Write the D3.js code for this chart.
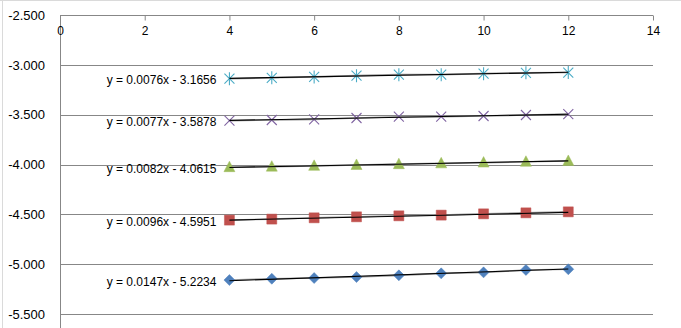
<!DOCTYPE html>
<html>
<head>
<meta charset="utf-8">
<script src="https://cdn.jsdelivr.net/npm/d3@7"></script>
<style>
  html, body { margin: 0; padding: 0; background: #fff; }
  svg { display: block; }
  text { font-family: "Liberation Sans", Arial, sans-serif; fill: #000; }
</style>
</head>
<body>
<svg id="chart" width="681" height="328"></svg>
<script>
// Measured points: x = 4..12, one row per series
const xValues = [4, 5, 6, 7, 8, 9, 10, 11, 12];
const seriesNames = ["s1", "s2", "s3", "s4", "s5"];
const seriesValues = [
  [-5.158, -5.145, -5.138, -5.128, -5.111, -5.091, -5.081, -5.057, -5.050],
  [-4.557, -4.547, -4.534, -4.524, -4.514, -4.507, -4.494, -4.484, -4.474],
  [-4.026, -4.021, -4.013, -4.004, -3.996, -3.988, -3.980, -3.972, -3.964],
  [-3.560, -3.553, -3.547, -3.533, -3.520, -3.520, -3.513, -3.503, -3.493],
  [-3.139, -3.130, -3.121, -3.108, -3.098, -3.098, -3.088, -3.080, -3.077]
];
// Linear trendline coefficients (y = slope * x + intercept)
const trendSlopes = [0.0147, 0.0096, 0.0082, 0.0077, 0.0076];
const trendIntercepts = [-5.2234, -4.5951, -4.0615, -3.5878, -3.1656];
const trendLabels = [
  "y = 0.0147x - 5.2234",
  "y = 0.0096x - 4.5951",
  "y = 0.0082x - 4.0615",
  "y = 0.0077x - 3.5878",
  "y = 0.0076x - 3.1656"
];
const seriesColors = ["#4F81BD", "#C0504D", "#9BBB59", "#8064A2", "#4BACC6"];
const markerKinds = ["diamond", "square", "triangle", "x", "star"];
const xTicks = [0, 2, 4, 6, 8, 10, 12, 14];
const yTicks = [-2.5, -3.0, -3.5, -4.0, -4.5, -5.0, -5.5];

const svg = d3.select("#chart");
const W = 681, H = 328;

const x = d3.scaleLinear().domain([0, 14]).range([60, 653]);
const y = d3.scaleLinear().domain([-2.5, -6.0]).range([15, 364]);
const gridColor = "#878787";

// worksheet cell lines around the chart area
svg.append("line").attr("x1", 0).attr("x2", W).attr("y1", 0.5).attr("y2", 0.5)
  .attr("stroke", "#dadada");
svg.append("line").attr("x1", 2.5).attr("x2", 2.5).attr("y1", 0).attr("y2", H)
  .attr("stroke", "#dadada");

// horizontal gridlines
svg.append("g").selectAll("line").data(yTicks.slice(1)).join("line")
  .attr("x1", x(0)).attr("x2", x(14))
  .attr("y1", d => Math.round(y(d)) + 0.5).attr("y2", d => Math.round(y(d)) + 0.5)
  .attr("stroke", gridColor).attr("stroke-width", 1);

// vertical axis line (labels only, no tick marks)
svg.append("line")
  .attr("x1", Math.round(x(0)) + 0.5).attr("x2", Math.round(x(0)) + 0.5)
  .attr("y1", y(-2.5)).attr("y2", H)
  .attr("stroke", gridColor);

const yAxis = d3.axisLeft(y).tickValues(yTicks).tickSize(0).tickPadding(0)
  .tickFormat(d => d.toFixed(3));
const gy = svg.append("g").attr("transform", `translate(45,0)`).call(yAxis);
gy.select(".domain").remove();
gy.selectAll("text").attr("font-size", "13px").attr("font-family", "Liberation Sans, Arial, sans-serif")
  .attr("fill", "#000");

// horizontal value axis placed at the top of the plot
const xAxis = d3.axisBottom(x).tickValues(xTicks).tickSize(5).tickPadding(6)
  .tickFormat(d3.format("d"));
const gx = svg.append("g").attr("transform", `translate(0,${Math.round(y(-2.5)) + 0.5})`).call(xAxis);
gx.select(".domain").attr("stroke", gridColor).attr("d", `M${x(0)},0H${x(14)}`);
gx.selectAll(".tick line").attr("stroke", gridColor);
gx.selectAll("text").attr("font-size", "12px").attr("font-family", "Liberation Sans, Arial, sans-serif")
  .attr("fill", "#000");

// marker shapes
function markerPath(kind) {
  switch (kind) {
    case "diamond": return "M0,-5.5L5.5,0L0,5.5L-5.5,0Z";
    case "square": return "M-5,-5H5V5H-5Z";
    case "triangle": return "M0,-6L5.5,4.5H-5.5Z";
    case "x": return "M-5,-5L5,5M-5,5L5,-5";
    case "star": return "M-5,-5L5,5M-5,5L5,-5M0,-6.5V6.5";
  }
}

const plot = svg.append("g");
seriesValues.forEach((vals, i) => {
  const pts = xValues.map((xv, j) => [xv, vals[j]]);
  const g = plot.append("g").attr("class", seriesNames[i]);

  // connecting line between measured points
  g.append("path")
    .datum(pts)
    .attr("d", d3.line().x(d => x(d[0])).y(d => y(d[1])))
    .attr("fill", "none").attr("stroke", "#9a9a9a").attr("stroke-width", 1.6);

  // markers
  const kind = markerKinds[i];
  const filled = kind === "diamond" || kind === "square" || kind === "triangle";
  g.selectAll("path.m").data(pts).join("path")
    .attr("class", "m")
    .attr("transform", d => `translate(${x(d[0])},${y(d[1])})`)
    .attr("d", markerPath(kind))
    .attr("fill", filled ? seriesColors[i] : "none")
    .attr("stroke", seriesColors[i])
    .attr("stroke-width", filled ? 0.8 : 1.1)
    .attr("stroke-opacity", filled ? 0.6 : 1);

  // linear trendline over the data range
  const t0 = xValues[0], t1 = xValues[xValues.length - 1];
  const f = xv => trendSlopes[i] * xv + trendIntercepts[i];
  g.append("line")
    .attr("x1", x(t0)).attr("y1", y(f(t0)))
    .attr("x2", x(t1)).attr("y2", y(f(t1)))
    .attr("stroke", "#000").attr("stroke-width", 1.1);

  // trendline equation
  svg.append("text")
    .attr("x", x(t0) - 13)
    .attr("y", y(f(t0)) + 2.5)
    .attr("text-anchor", "end")
    .attr("dominant-baseline", "middle")
    .attr("font-size", "12px")
    .text(trendLabels[i]);
});
</script>
</body>
</html>
